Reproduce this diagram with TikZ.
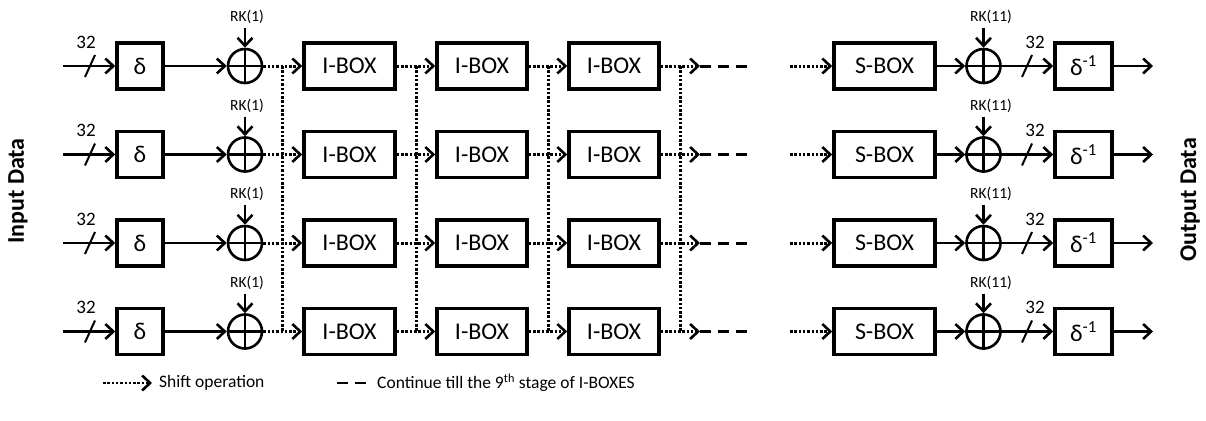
\documentclass[tikz,border=0pt]{standalone}
\usepackage{fontspec}
\setmainfont{Carlito}
\usetikzlibrary{arrows.meta}
\begin{document}
\begin{tikzpicture}[x=1pt,y=-1pt,
  blk/.style={draw,line width=3.6pt,minimum height=46pt,inner sep=0pt,
              font=\fontsize{24}{24}\selectfont},
  xorc/.style={draw,circle,line width=2.6pt,minimum size=34pt,inner sep=0pt},
  tip/.style={-{Straight Barb[length=8pt,width=15pt,line width=2.6pt]}},
  wire/.style={line width=2.6pt,tip},
  dotw/.style={line width=3pt,dash pattern=on 2.5pt off 1.8pt,tip},
  dotl/.style={line width=3pt,dash pattern=on 2.5pt off 1.8pt},
  dashw/.style={line width=3pt,dash pattern=on 11pt off 7pt},
  bus/.style={line width=2pt},
  num/.style={font=\fontsize{19}{19}\selectfont,inner sep=0pt},
  key/.style={font=\fontsize{15.5}{16}\selectfont,inner sep=0pt},
  side/.style={font=\fontsize{24}{24}\selectfont\bfseries,rotate=90,inner sep=0pt},
  note/.style={font=\fontsize{17.5}{18}\selectfont,anchor=west,inner sep=0pt}
]
\useasboundingbox (0,0) rectangle (1206,420);

% side captions
\node[side] (inp) at (18,191) {Input Data};
\node[side] (outp) at (1190,200) {Output Data};

% four identical lanes
\foreach \r/\y in {1/66,2/154.5,3/243,4/331.5}{
  % input stage
  \coordinate (in\r) at (63,\y);
  \node[blk,minimum width=46pt] (d\r) at (140,\y) {δ};
  \draw[wire] (in\r) -- (d\r);
  \draw[bus] (85,\y+11) -- (95,\y-11);
  \node[num] (n\r) at (86,\y-24) {32};
  % first round-key addition
  \node[xorc] (x\r) at (245,\y) {};
  \draw[line width=2.6pt] (x\r.north) -- (x\r.south) (x\r.west) -- (x\r.east);
  \draw[wire] (d\r) -- (x\r);
  \node[key] (k\r) at (247,\y-49) {RK(1)};
  \coordinate (kt\r) at (245,\y-38);
  \draw[wire] (kt\r) -- (x\r.north);
  % I-BOX chain
  \node[blk,minimum width=91pt] (ia\r) at (349.5,\y) {I-BOX};
  \node[blk,minimum width=90pt] (ib\r) at (482,\y) {I-BOX};
  \node[blk,minimum width=90pt] (ic\r) at (614,\y) {I-BOX};
  \draw[dotw] (x\r) -- (ia\r);
  \draw[dotw] (ia\r) -- (ib\r);
  \draw[dotw] (ib\r) -- (ic\r);
  \coordinate (e\r) at (700,\y);
  \coordinate (f\r) at (752,\y);
  \coordinate (g\r) at (790,\y);
  \draw[dotw] (ic\r) -- (e\r);
  \draw[dashw] (e\r) -- (f\r);
  % final stage
  \node[blk,minimum width=101pt] (s\r) at (884.5,\y) {S-BOX};
  \draw[dotw] (g\r) -- (s\r);
  \node[xorc] (y\r) at (983.5,\y) {};
  \draw[line width=2.6pt] (y\r.north) -- (y\r.south) (y\r.west) -- (y\r.east);
  \draw[wire] (s\r) -- (y\r);
  \node[key] (m\r) at (991,\y-49) {RK(11)};
  \coordinate (mt\r) at (983.5,\y-38);
  \draw[wire] (mt\r) -- (y\r.north);
  \node[blk,minimum width=57pt] (o\r) at (1083.5,\y) {δ\textsuperscript{-1}};
  \draw[wire] (y\r) -- (o\r);
  \draw[bus] (1022,\y+11) -- (1032,\y-11);
  \node[num] (p\r) at (1035,\y-24) {32};
  \coordinate (out\r) at (1153,\y);
  \draw[wire] (o\r) -- (out\r);
}

% shift connections between the lanes
\foreach \a/\b in {x/ia,ia/ib,ib/ic}{
  \path (\a1.east) -- (\b1.west) coordinate[pos=0.5] (t\a);
  \path (\a4.east) -- (\b4.west) coordinate[pos=0.5] (u\a);
  \draw[dotl] (t\a) -- (u\a);
}
\path (ic1.east) -- (e1) coordinate[pos=0.5] (tz);
\path (ic4.east) -- (e4) coordinate[pos=0.5] (uz);
\draw[dotl] (tz) -- (uz);

% legend
\coordinate (la) at (103,383);
\coordinate (lb) at (152,383);
\draw[dotw,line width=2.6pt] (la) -- (lb);
\node[note] (lt) at (159,383) {Shift operation};
\coordinate (lc) at (337,383);
\coordinate (ld) at (366,383);
\draw[dashw,line width=2.6pt] (lc) -- (ld);
\node[note] (lu) at (377,383) {Continue till the 9\textsuperscript{th} stage of I-BOXES};
\end{tikzpicture}
\end{document}
